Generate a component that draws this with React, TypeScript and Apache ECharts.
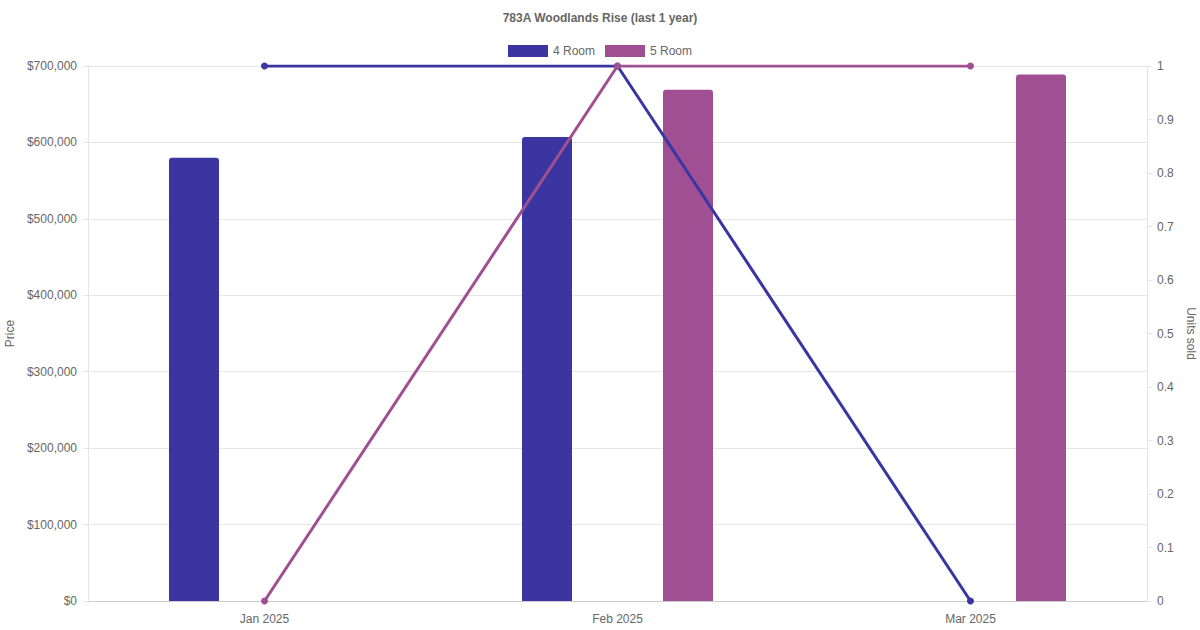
import React, { useEffect, useRef } from "react";
import * as echarts from "echarts";

const categories = ["Jan 2025", "Feb 2025", "Mar 2025"];
const price4Room = [580000, 607000, null];
const price5Room = [null, 669000, 689000];
const units4Room = [1, 1, 0];
const units5Room = [0, 1, 1];

const C4 = "#3A35A0";
const C5 = "#A05092";
const FONT = "Liberation Sans, Arial, sans-serif";
const GRAY = "#666";

export default function App() {
  const ref = useRef<HTMLDivElement>(null);
  useEffect(() => {
    const chart = echarts.init(ref.current!, null, { renderer: "svg" });
    chart.setOption({
      animation: false,
      textStyle: { fontFamily: FONT },
      title: {
        text: "783A Woodlands Rise (last 1 year)",
        left: "center",
        top: 7,
        textStyle: { fontSize: 12, fontWeight: "bold", color: GRAY, fontFamily: FONT },
      },
      legend: {
        top: 40,
        left: "center",
        itemWidth: 40,
        itemHeight: 12,
        itemGap: 10,
        textStyle: { fontSize: 12, color: GRAY, fontFamily: FONT },
        data: [
          { name: "4 Room", icon: "rect" },
          { name: "5 Room", icon: "rect" },
        ],
      },
      grid: { left: 88, right: 53, top: 66, bottom: 29, containLabel: false, outerBoundsMode: "none" },
      xAxis: {
        type: "category",
        data: categories,
        axisLine: { lineStyle: { color: "#ccc" } },
        axisTick: { show: false },
        axisLabel: { color: GRAY, fontSize: 12, margin: 12 },
      },
      yAxis: [
        {
          type: "value",
          min: 0,
          max: 700000,
          interval: 100000,
          name: "Price",
          nameLocation: "middle",
          nameRotate: 90,
          nameGap: 71,
          nameTextStyle: { color: GRAY, fontSize: 12 },
          axisLine: { show: true, lineStyle: { color: "#e5e5e5" } },
          axisTick: { show: true, length: 5, lineStyle: { color: "#e5e5e5" } },
          splitLine: { lineStyle: { color: "#e5e5e5" } },
          axisLabel: {
            color: GRAY,
            fontSize: 12,
            margin: 11,
            formatter: (v: number) => "$" + v.toLocaleString("en-US"),
          },
        },
        {
          type: "value",
          min: 0,
          max: 1,
          interval: 0.1,
          name: "Units sold",
          nameLocation: "middle",
          nameRotate: -90,
          nameGap: 36,
          nameTextStyle: { color: GRAY, fontSize: 12 },
          axisLine: { show: true, lineStyle: { color: "#e5e5e5" } },
          axisTick: { show: true, length: 5, lineStyle: { color: "#e5e5e5" } },
          splitLine: { show: false },
          axisLabel: {
            color: GRAY,
            fontSize: 12,
            margin: 10,
            formatter: (v: number) => String(Math.round(v * 10) / 10),
          },
        },
      ],
      series: [
        {
          name: "4 Room",
          type: "bar",
          data: price4Room,
          barWidth: 50,
          barGap: "182%",
          itemStyle: { color: C4, borderRadius: [3, 3, 0, 0] },
          z: 2,
        },
        {
          name: "5 Room",
          type: "bar",
          data: price5Room,
          barWidth: 50,
          barGap: "182%",
          itemStyle: { color: C5, borderRadius: [3, 3, 0, 0] },
          z: 2,
        },
        {
          name: "4 Room units",
          type: "line",
          yAxisIndex: 1,
          data: units4Room,
          symbol: "circle",
          symbolSize: 7,
          lineStyle: { color: C4, width: 3 },
          itemStyle: { color: C4 },
          z: 3,
        },
        {
          name: "5 Room units",
          type: "line",
          yAxisIndex: 1,
          data: units5Room,
          symbol: "circle",
          symbolSize: 7,
          lineStyle: { color: C5, width: 3 },
          itemStyle: { color: C5 },
          z: 4,
        },
      ],
    });
    return () => chart.dispose();
  }, []);
  return (
    <div
      ref={ref}
      style={{ position: "fixed", left: 0, top: 0, width: 1200, height: 630, background: "#fff" }}
    />
  );
}
